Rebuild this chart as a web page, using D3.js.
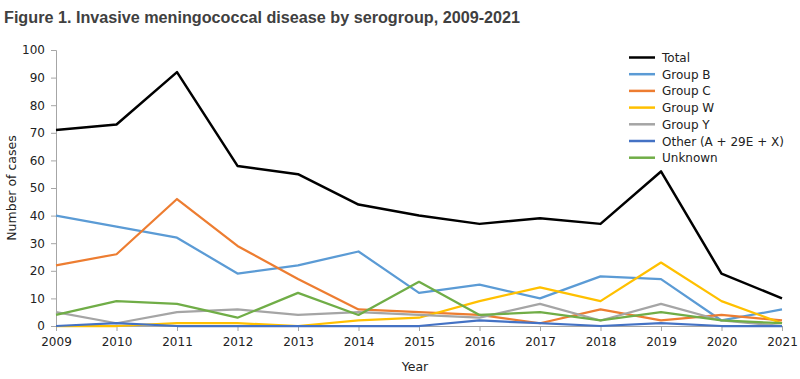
<!DOCTYPE html>
<html><head><meta charset="utf-8">
<script src="https://cdn.jsdelivr.net/npm/d3@7"></script>
<style>body{margin:0;background:#fff}svg{display:block}text{font-family:"DejaVu Sans",sans-serif}</style>
</head><body><svg id="c" width="800" height="379"></svg>
<script>
const years = [2009,2010,2011,2012,2013,2014,2015,2016,2017,2018,2019,2020,2021];
const total   = [71,73,92,58,55,44,40,37,39,37,56,19,10];
const groupB  = [40,36,32,19,22,27,12,15,10,18,17,2,6];
const groupC  = [22,26,46,29,17,6,5,4,1,6,2,4,2];
const groupW  = [0,0,1,1,0,2,3,9,14,9,23,9,1];
const groupY  = [5,1,5,6,4,5,4,3,8,2,8,2,0];
const other   = [0,1,0,0,0,0,0,2,1,0,1,0,0];
const unknown = [4,9,8,3,12,4,16,4,5,2,5,2,1];
const seriesNames = ["Total","Group B","Group C","Group W","Group Y","Other (A + 29E + X)","Unknown"];
const seriesValues = [total,groupB,groupC,groupW,groupY,other,unknown];
const colors = ["#000000","#5B9BD5","#ED7D31","#FFC000","#A5A5A5","#4472C4","#70AD47"];
const yTicks = [0,10,20,30,40,50,60,70,80,90,100];

const svg = d3.select("#c");
const x = d3.scaleLinear().domain([2009,2021]).range([56,782]);
const y = d3.scaleLinear().domain([0,100]).range([326,50]);

svg.append("text").attr("x",4).attr("y",23).attr("font-size",16).attr("font-weight","bold")
  .style("font-family","'Liberation Sans',Arial,sans-serif")
  .attr("textLength",516).attr("lengthAdjust","spacingAndGlyphs")
  .attr("fill","#404040").text("Figure 1. Invasive meningococcal disease by serogroup, 2009-2021");

const ya = svg.append("g").attr("transform","translate(56,0)")
  .call(d3.axisLeft(y).tickValues(yTicks).tickSize(5).tickPadding(6));
ya.select(".domain").attr("stroke","#A6A6A6");
ya.selectAll(".tick line").attr("stroke","#A6A6A6");
ya.selectAll(".tick text").attr("font-size",12).attr("fill","#222").style("font-family","DejaVu Sans");

const xa = svg.append("g").attr("transform","translate(0,326)")
  .call(d3.axisBottom(x).tickValues(years).tickFormat(d3.format("d")).tickSize(5).tickPadding(6));
xa.select(".domain").attr("stroke","#A6A6A6");
xa.selectAll(".tick line").attr("stroke","#A6A6A6");
xa.selectAll(".tick text").attr("font-size",12).attr("fill","#222").style("font-family","DejaVu Sans");

svg.append("text").attr("x",415).attr("y",371).attr("text-anchor","middle").attr("font-size",12.5).attr("fill","#222").text("Year");
svg.append("text").attr("transform","translate(16,188) rotate(-90)").attr("text-anchor","middle").attr("font-size",12.5).attr("fill","#222").text("Number of cases");

const line = d3.line().x((d,i)=>x(years[i])).y(d=>y(d));
seriesValues.forEach((vals,k)=>{
  svg.append("path").datum(vals).attr("d",line).attr("fill","none")
    .attr("stroke",colors[k]).attr("stroke-width",k===0?2.5:2.25).attr("stroke-linejoin","round");
});

const lg = svg.append("g");
seriesNames.forEach((n,k)=>{
  const yy = 57.5 + k*16.7;
  lg.append("line").attr("x1",629).attr("x2",655).attr("y1",yy).attr("y2",yy).attr("stroke",colors[k]).attr("stroke-width",2.5);
  lg.append("text").attr("x",662).attr("y",yy+4.5).attr("font-size",12).attr("fill","#222").text(n);
});
</script></body></html>
